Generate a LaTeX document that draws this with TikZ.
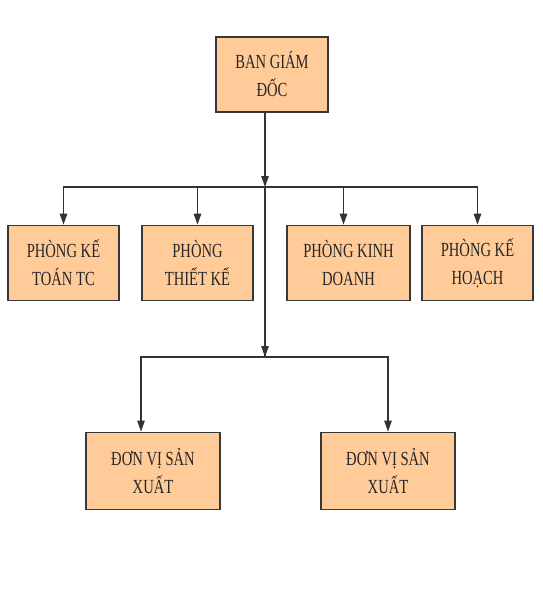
\documentclass[tikz,border=0pt]{standalone}
\usepackage{fontspec}
\newfontfamily\boxfont[FakeStretch=0.73]{Liberation Serif}
\usepackage{tikz}
\usetikzlibrary{positioning,arrows.meta,calc}

\begin{document}
\begin{tikzpicture}[x=1pt, y=-1pt,
  unit/.style={draw=black!78, line width=1.8pt, fill=orange!40!white,
               minimum width=111pt, minimum height=75pt, inner sep=1pt,
               align=center, text=black!85,
               font=\boxfont\fontsize{20}{28}\selectfont},
  wide/.style={unit, minimum width=134pt, minimum height=77pt},
  arr/.style={-{Triangle[length=11pt,width=7.5pt]}, line width=1.1pt, black!80},
  link/.style={line width=1.1pt, black!80},
]
\useasboundingbox (0,0) rectangle (543,611);

% top
\node[unit, minimum width=112pt] (bgd) at (272,74.5) {BAN GIÁM\\ĐỐC};

% second row: departments
\node[unit] (kt) at (63.5,263) {PHÒNG KẾ\\TOÁN TC};
\node[unit] (tk) at (197.5,263) {PHÒNG\\THIẾT KẾ};
\node[unit, minimum width=123pt] (kd) at (348.5,263) {PHÒNG KINH\\DOANH};
\node[unit] (kh) at (477.5,263) {PHÒNG KẾ\\HOẠCH};

% bottom row
\node[wide] (sx1) at (153,471) {ĐƠN VỊ SẢN\\XUẤT};
\node[wide] (sx2) at (388,471) {ĐƠN VỊ SẢN\\XUẤT};

% bus lines
\coordinate (top) at ($(bgd.south)+(-7,0)$);
\coordinate (bus) at (265,187);
\coordinate (mid) at (265,357);

\draw[arr] (top) -- (bus);
\draw[link] (bus) -- (mid);
\draw[arr] ($(bus)+(0,100)$) -- (mid);
\draw[arr] (bus) -| (kt);
\draw[arr] (bus) -| (tk);
\draw[arr] (bus) -| ($(kd.north)+(-5,0)$);
\draw[arr] (bus) -| (kh);
\draw[arr] (mid) -| ($(sx1.north)+(-12,0)$);
\draw[arr] (mid) -| (sx2);
\end{tikzpicture}
\end{document}
